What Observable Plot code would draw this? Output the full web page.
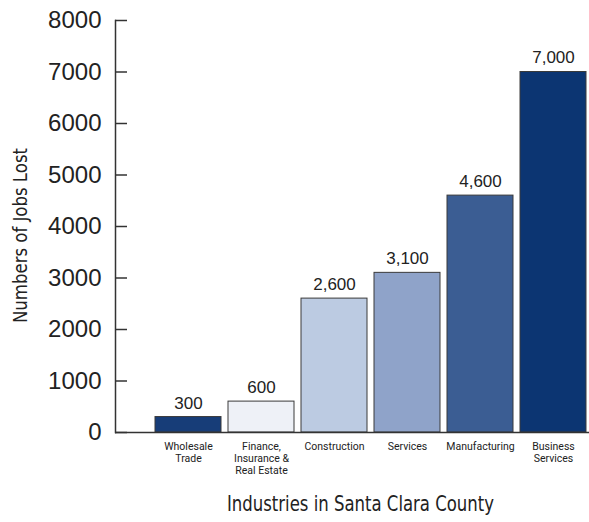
<!DOCTYPE html>
<html>
<head>
<meta charset="utf-8">
<script src="https://cdn.jsdelivr.net/npm/d3@7"></script>
<script src="https://cdn.jsdelivr.net/npm/@observablehq/plot@0.6"></script>
<style>
  html, body { margin: 0; padding: 0; background: #fff; }
</style>
</head>
<body>
<div id="chart"></div>
<script>
const categories = ["Wholesale Trade", "Finance, Insurance & Real Estate", "Construction", "Services", "Manufacturing", "Business Services"];
const tickNames = ["Wholesale\nTrade", "Finance,\nInsurance &\nReal Estate", "Construction", "Services", "Manufacturing", "Business\nServices"];
const jobsLost = [300, 600, 2600, 3100, 4600, 7000];
const valueLabels = ["300", "600", "2,600", "3,100", "4,600", "7,000"];
const barColors = ["#173d78", "#eef1f7", "#bccbe2", "#8fa3c9", "#3b5d93", "#0c3572"];
const yTicks = [0, 1000, 2000, 3000, 4000, 5000, 6000, 7000, 8000];

const data = categories.map((c, i) => ({cat: c, value: jobsLost[i], label: valueLabels[i], color: barColors[i]}));
const tickLabel = new Map(categories.map((c, i) => [c, tickNames[i]]));

const chart = Plot.plot({
  width: 589,
  height: 522,
  marginLeft: 115,
  marginRight: 0,
  marginTop: 20,
  marginBottom: 90,
  style: {fontFamily: "'Liberation Sans', Arial, sans-serif", background: "#fff", color: "#222"},
  x: {domain: categories, range: [148.3, 592.3], paddingInner: 0.1, paddingOuter: 0.05, axis: null},
  y: {domain: [0, 8000], axis: null},
  marks: [
    Plot.barY(data, {x: "cat", y: "value", fill: "color", stroke: "#3a3a3a", strokeWidth: 1}),
    Plot.ruleY([0], {stroke: "#333", strokeWidth: 1.5}),
    Plot.frame({anchor: "left", stroke: "#333", strokeWidth: 1.5}),
    Plot.axisY({ticks: yTicks, tickSize: -12, text: null, label: null, stroke: "#333", strokeWidth: 1.5}),
    Plot.axisY({ticks: yTicks, tickSize: 0, tickPadding: 14, label: null, tickFormat: d => String(d), fontSize: 24, fill: "#222", className: "yticks"}),
    Plot.axisX({tickSize: 0, tickPadding: 9, label: null, tickFormat: d => tickLabel.get(d), fontSize: 10.5, lineHeight: 1.15, fontFamily: "Roboto, sans-serif", fill: "#222", textAnchor: "middle", className: "catlabels"}),
    Plot.text(data, {x: "cat", y: "value", text: "label", dy: -14, fontSize: 17, fill: "#222"}),
    Plot.text(["Numbers of Jobs Lost"], {frameAnchor: "left", textAnchor: "middle", rotate: -90, dx: -95, dy: 9, fontSize: 20, fontFamily: "'DejaVu Sans', sans-serif", fill: "#222", className: "ylab"}),
    Plot.text(["Industries in Santa Clara County"], {frameAnchor: "bottom", textAnchor: "middle", dx: 8, dy: 78, fontSize: 21, fontFamily: "'DejaVu Sans', sans-serif", fill: "#222", className: "xlab"})
  ]
});
// condensed look: squeeze glyphs to the reference widths
d3.select(chart).selectAll(".ylab text").attr("textLength", 175).attr("lengthAdjust", "spacingAndGlyphs");
d3.select(chart).selectAll(".xlab text").attr("textLength", 267).attr("lengthAdjust", "spacingAndGlyphs");
document.getElementById("chart").appendChild(chart);
</script>
</body>
</html>
